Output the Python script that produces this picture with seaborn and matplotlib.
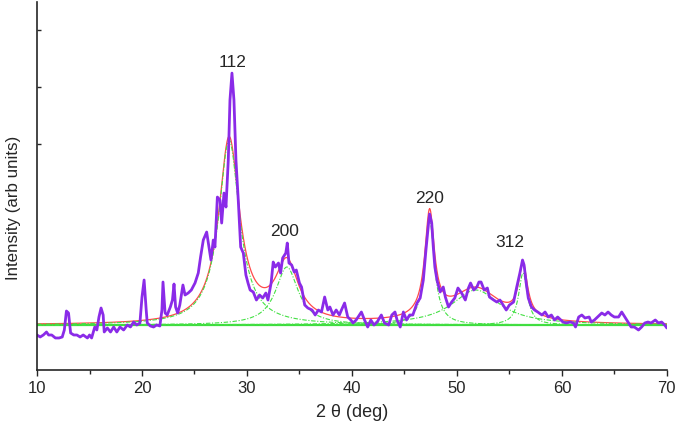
import numpy as np
import pandas as pd
import matplotlib
matplotlib.use("Agg")
import matplotlib.pyplot as plt
import seaborn as sns

# measured XRD pattern (2 theta in deg, intensity in arb units)
two_theta = [10.0, 10.3, 10.6, 10.9, 11.1, 11.4, 11.75, 12.1, 12.4, 12.6, 12.8, 13.0, 13.2, 13.5, 13.8,
             14.1, 14.4, 14.8, 15.0, 15.2, 15.5, 15.7, 15.9, 16.1, 16.3, 16.4, 16.7, 17.0, 17.3, 17.6,
             17.9, 18.25, 18.6, 18.9, 19.2, 19.5, 19.8, 20.0, 20.2, 20.4, 20.5, 20.8, 21.1, 21.4, 21.7,
             21.9, 22.0, 22.2, 22.4, 22.7, 22.9, 23.05, 23.2, 23.4, 23.6, 23.9, 24.1, 24.4, 24.7, 25.05,
             25.36, 25.58, 25.84, 26.16, 26.38, 26.57, 26.79, 26.95, 27.18, 27.43, 27.59, 27.81, 28.0, 28.22, 28.38,
             28.57, 28.76, 28.95, 29.17, 29.4, 29.65, 29.9, 30.1, 30.3, 30.6, 30.9, 31.2, 31.5, 31.8, 32.0,
             32.3, 32.5, 32.7, 33.0, 33.2, 33.4, 33.7, 33.84, 34.0, 34.26, 34.5, 34.7, 35.0, 35.2, 35.5,
             35.8, 36.2, 36.5, 36.8, 37.1, 37.4, 37.7, 37.9, 38.2, 38.5, 38.8, 39.0, 39.3, 39.6, 39.9,
             40.1, 40.4, 40.9, 41.2, 41.5, 41.8, 42.1, 42.4, 42.8, 43.1, 43.5, 43.8, 44.1, 44.3, 44.6,
             44.9, 45.2, 45.5, 45.8, 46.2, 46.5, 46.8, 47.05, 47.3, 47.4, 47.6, 47.75, 47.9, 48.1, 48.4,
             48.7, 48.9, 49.2, 49.5, 49.8, 50.1, 50.45, 50.8, 51.1, 51.3, 51.6, 51.9, 52.1, 52.3, 52.6,
             52.9, 53.1, 53.5, 53.8, 54.1, 54.4, 54.7, 55.0, 55.4, 55.7, 56.0, 56.25, 56.4, 56.6, 56.8,
             57.1, 57.4, 57.7, 58.1, 58.4, 58.7, 59.0, 59.3, 59.6, 59.9, 60.1, 60.4, 60.8, 61.1, 61.3,
             61.6, 61.9, 62.2, 62.6, 62.8, 63.1, 63.4, 63.8, 64.1, 64.4, 64.7, 65.0, 65.4, 65.7, 66.0,
             66.3, 66.6, 66.9, 67.3, 67.6, 67.9, 68.2, 68.5, 68.9, 69.2, 69.5, 69.8, 70.0]
intensity = [35, 33, 35, 38, 35, 35, 32, 32, 33, 40, 59, 57, 37, 35, 35,
             33, 35, 32, 35, 32, 43, 40, 53, 62, 55, 38, 42, 38, 43, 38,
             43, 40, 45, 43, 48, 45, 47, 73, 90, 60, 47, 44, 43, 45, 44,
             60, 88, 57, 55, 63, 70, 86, 63, 57, 65, 85, 75, 77, 80, 87,
             97, 113, 130, 138, 123, 110, 130, 123, 173, 170, 147, 177, 163, 210, 270,
             297, 270, 210, 170, 123, 117, 95, 87, 80, 78, 70, 75, 72, 77, 70,
             87, 108, 103, 107, 97, 112, 117, 127, 107, 105, 98, 100, 87, 83, 65,
             62, 60, 55, 60, 58, 73, 60, 63, 55, 60, 55, 60, 67, 53, 50,
             47, 50, 58, 50, 43, 50, 45, 48, 55, 47, 45, 55, 58, 50, 43,
             58, 50, 55, 55, 67, 72, 90, 120, 147, 156, 147, 123, 103, 90, 78,
             83, 73, 63, 68, 72, 82, 77, 70, 82, 87, 80, 83, 88, 88, 80,
             82, 73, 70, 68, 70, 65, 60, 65, 68, 83, 97, 110, 105, 87, 72,
             63, 60, 58, 55, 58, 53, 55, 50, 53, 50, 48, 47, 48, 47, 43,
             53, 55, 52, 53, 48, 50, 53, 57, 55, 58, 55, 53, 53, 58, 53,
             48, 43, 43, 40, 43, 47, 48, 47, 50, 47, 48, 45, 42]

# Lorentzian fit components
baseline = 45
peak_centers = [28.3, 33.8, 47.4, 51.8, 56.3]
peak_heights = [185, 58, 105, 35, 52]
peak_hwhm = [1.2, 1.3, 0.55, 2.8, 0.5]

# reflection labels
hkl_labels = ["112", "200", "220", "312"]
label_x = [28.67, 33.6, 47.4, 55.05]
label_y = [308, 139, 172, 128]

sns.set_style("ticks")
plt.rcParams['font.family'] = ['Liberation Sans', 'DejaVu Sans']

fig = plt.figure(figsize=(6.77, 4.26), dpi=100)
ax = fig.add_axes([0.0547, 0.1315, 0.9303, 0.8635])

grid = np.linspace(10, 70, 1201)
comps = []
for c, h, g in zip(peak_centers, peak_heights, peak_hwhm):
    comps.append(h / (1 + ((grid - c) / g) ** 2))
fit = baseline + np.sum(comps, axis=0)

sns.lineplot(x=grid, y=np.full_like(grid, baseline), color="#3ddc3d", lw=1.6, ax=ax)
sns.lineplot(x=grid, y=fit, color="#ff4a4a", lw=0.9, ax=ax)
for comp in comps:
    sns.lineplot(x=grid, y=baseline + comp, color="#44e044", lw=0.8, ax=ax,
                 linestyle=(0, (4, 1.5, 1, 1.5)))

df = pd.DataFrame({"two_theta": two_theta, "intensity": intensity})
sns.lineplot(data=df, x="two_theta", y="intensity", color="#8a2be8", lw=2.0, ax=ax, sort=False)

for t, x, y in zip(hkl_labels, label_x, label_y):
    ax.text(x, y, t, ha="center", va="center", fontsize=12.5)

ax.set_xlim(10, 70)
ax.set_ylim(0, 368)
ax.set_xticks([10, 20, 30, 40, 50, 60, 70])
ax.set_xticks([15, 25, 35, 45, 55, 65], minor=True)
ax.set_yticks([226, 283, 340])
ax.set_yticklabels([])
ax.tick_params(axis="x", direction="out", length=4, width=1, labelsize=12, pad=4)
ax.tick_params(axis="x", which="minor", direction="out", length=3, width=1)
ax.tick_params(axis="y", direction="in", length=3, width=1)
for s in ["top", "right"]:
    ax.spines[s].set_visible(False)
for s in ["left", "bottom"]:
    ax.spines[s].set_linewidth(1.2)
ax.set_xlabel("2 θ (deg)", fontsize=13, labelpad=6)
ax.set_ylabel("Intensity (arb units)", fontsize=12.2,
              family=["Liberation Sans Narrow", "Liberation Sans", "DejaVu Sans"])
ax.yaxis.set_label_coords(-0.026, 0.44)

fig.savefig("out.png", dpi=100)
